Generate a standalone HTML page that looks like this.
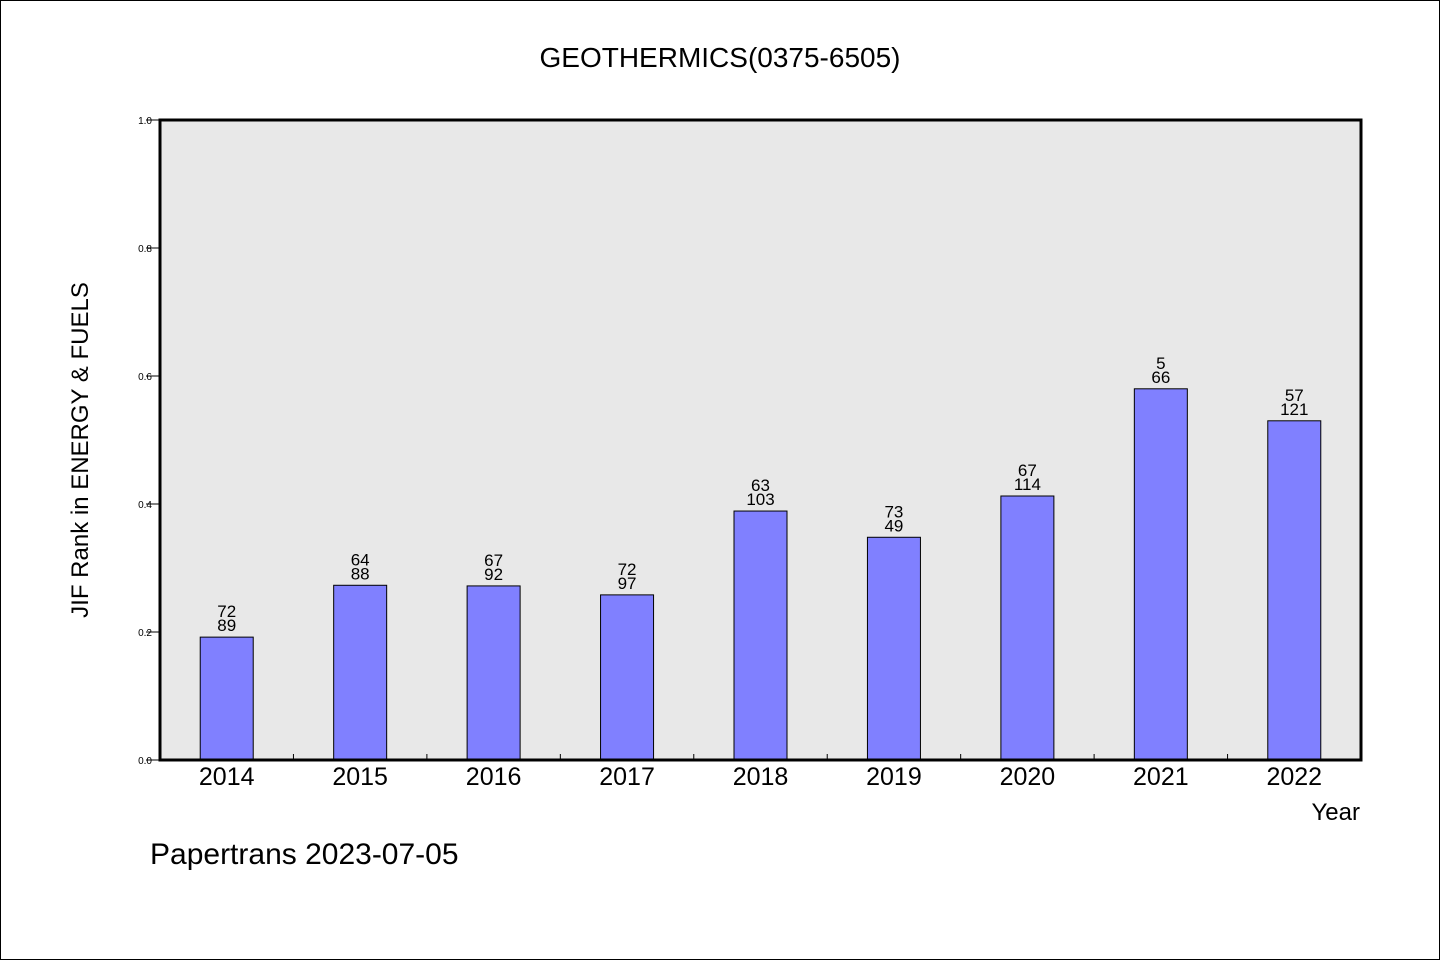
<!DOCTYPE html>
<html><head><meta charset="utf-8"><style>
body{margin:0;background:#fff}
svg text{font-family:"WenQuanYi Zen Hei","Liberation Sans",sans-serif;fill:#000}
</style></head><body>
<svg id="chart" width="1440" height="960" xmlns="http://www.w3.org/2000/svg">
<rect x="0.5" y="0.5" width="1439" height="959" fill="#fff" stroke="#000"/>
<text x="720" y="67" font-size="28" text-anchor="middle">GEOTHERMICS(0375-6505)</text>
<rect x="160" y="120" width="1201" height="640" fill="#e8e8e8"/>
<g id="marks"></g>
<rect x="160" y="120" width="1201" height="640" fill="none" stroke="#000" stroke-width="3"/>
<text transform="translate(88,450) rotate(-90)" font-size="24" text-anchor="middle">JIF Rank in ENERGY &amp; FUELS</text>
<text x="1360" y="820" font-size="24" text-anchor="end">Year</text>
<text x="150" y="864" font-size="30">Papertrans 2023-07-05</text>
</svg>
<script>
const categories=["2014","2015","2016","2017","2018","2019","2020","2021","2022"];
const values=[0.192,0.273,0.272,0.258,0.389,0.348,0.4125,0.580,0.530];
const rankLabels=["72","64","67","72","63","73","67","5","57"];
const totalLabels=["89","88","92","97","103","49","114","66","121"];
const yTicks=[0,0.2,0.4,0.6,0.8,1.0];
const yTickLabels=["0.0","0.2","0.4","0.6","0.8","1.0"];
const X0=160,X1=1361,Y0=760,Y1=120;
const band=(X1-X0)/categories.length;
const x=i=>X0+band*(i+0.5);
const y=v=>Y0-(Y0-Y1)*v;
const ns="http://www.w3.org/2000/svg";
const g=document.getElementById('marks');
function mk(t,a){const e=document.createElementNS(ns,t);for(const k in a)e.setAttribute(k,a[k]);g.appendChild(e);return e;}
yTicks.forEach((v,i)=>{
 const l=mk('line',{x1:146,x2:160,y1:y(v),y2:y(v),stroke:'#000'});
 
 
 const t=mk('text',{x:152,y:y(v)+4,'font-size':10,'text-anchor':'end'});
 t.textContent=yTickLabels[i];
 
 
});
for(let i=1;i<categories.length;i++){
 const l=mk('line',{x1:X0+band*i,x2:X0+band*i,y1:Y0,y2:Y0-6,stroke:'#000'});
 
 
}
const bw=53;
categories.forEach((c,i)=>{
 const b=mk('rect',{x:x(i)-bw/2,y:y(values[i]),width:bw,height:Y0-y(values[i]),fill:'#8080ff',stroke:'#000','stroke-width':1});
 
 
 const t1=mk('text',{x:x(i),y:y(values[i])-20,'font-size':17,'text-anchor':'middle'});
 t1.textContent=rankLabels[i];
 
 
 const t2=mk('text',{x:x(i),y:y(values[i])-6,'font-size':17,'text-anchor':'middle'});
 t2.textContent=totalLabels[i];
 
 
 const xl=mk('text',{x:x(i),y:785,'font-size':25,'text-anchor':'middle'});
 xl.textContent=c;
 
 
});
</script>
</body></html>
